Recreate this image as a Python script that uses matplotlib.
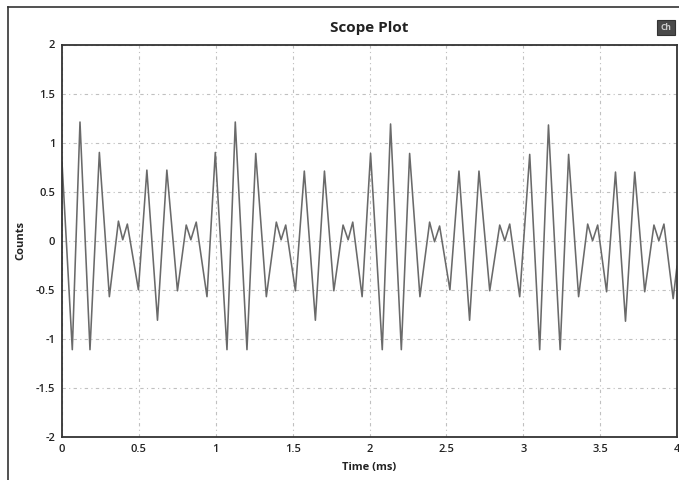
import matplotlib
matplotlib.use("Agg")
import matplotlib.pyplot as plt
from matplotlib.lines import Line2D
from matplotlib.patches import Rectangle

# ---- data (time in ms, counts) ----
time_ms = [0.000, 0.067, 0.117, 0.182, 0.243, 0.308, 0.367, 0.395, 0.425, 0.497,
           0.552, 0.621, 0.682, 0.751, 0.808, 0.838, 0.873, 0.943, 0.997, 1.073,
           1.127, 1.203, 1.260, 1.329, 1.394, 1.425, 1.455, 1.518, 1.576, 1.648,
           1.707, 1.768, 1.828, 1.861, 1.891, 1.952, 2.007, 2.083, 2.137, 2.207,
           2.261, 2.328, 2.391, 2.423, 2.456, 2.523, 2.582, 2.651, 2.712, 2.782,
           2.847, 2.880, 2.912, 2.977, 3.042, 3.107, 3.164, 3.240, 3.295, 3.360,
           3.419, 3.451, 3.484, 3.542, 3.600, 3.665, 3.725, 3.790, 3.850, 3.882,
           3.915, 3.975, 4.000]
counts = [0.80, -1.11, 1.21, -1.11, 0.90, -0.57, 0.20, 0.01, 0.17, -0.50,
          0.72, -0.81, 0.72, -0.51, 0.16, 0.01, 0.19, -0.57, 0.90, -1.11,
          1.21, -1.11, 0.89, -0.57, 0.19, 0.01, 0.16, -0.51, 0.71, -0.81,
          0.71, -0.51, 0.16, 0.01, 0.19, -0.57, 0.89, -1.11, 1.19, -1.11,
          0.89, -0.57, 0.19, -0.01, 0.15, -0.50, 0.71, -0.81, 0.71, -0.51,
          0.16, 0.00, 0.17, -0.57, 0.88, -1.11, 1.18, -1.11, 0.88, -0.57,
          0.17, 0.00, 0.16, -0.52, 0.70, -0.82, 0.70, -0.52, 0.16, 0.00,
          0.17, -0.59, -0.26]

x_ticks = [0, 0.5, 1, 1.5, 2, 2.5, 3, 3.5, 4]
x_tick_labels = ["0", "0.5", "1", "1.5", "2", "2.5", "3", "3.5", "4"]
y_ticks = [-2, -1.5, -1, -0.5, 0, 0.5, 1, 1.5, 2]
y_tick_labels = ["-2", "-1.5", "-1", "-0.5", "0", "0.5", "1", "1.5", "2"]

plt.rcParams['font.family'] = ['Open Sans', 'DejaVu Sans']

W, H = 679, 480
fig = plt.figure(figsize=(W / 100, H / 100), dpi=100)
fig.patch.set_facecolor("white")

ax = fig.add_axes([62 / W, 1 - 437 / H, (677 - 62) / W, (437 - 44.5) / H])
ax.plot(time_ms, counts, color="#6a6a6a", linewidth=1.15)

ax.set_xlim(0, 4)
ax.set_ylim(-2, 2)
ax.set_xticks(x_ticks)
ax.set_xticklabels(x_tick_labels)
ax.set_yticks(y_ticks)
ax.set_yticklabels(y_tick_labels)
ax.tick_params(length=0, labelsize=8, pad=5, colors="#222222")
for lbl in ax.get_xticklabels() + ax.get_yticklabels():
    lbl.set_fontweight("semibold")

ax.grid(True, color="#c0c0c0", linestyle=(0, (3, 3, 1, 3)), linewidth=0.8)
for sp in ax.spines.values():
    sp.set_color("#333333")
    sp.set_linewidth(1.3)

ax.set_title("Scope Plot", fontsize=11, fontweight="bold", pad=9, color="#222222")
ax.set_xlabel("Time (ms)", fontsize=8, fontweight="bold", labelpad=5, color="#222222")
ax.set_ylabel("Counts", fontsize=8, fontweight="bold", labelpad=7, color="#222222")

# outer window frame
fig.add_artist(Line2D([8 / W, 8 / W], [0, 1 - 7 / H], transform=fig.transFigure,
                      color="#333333", linewidth=1.2))
fig.add_artist(Line2D([8 / W, 1], [1 - 7 / H, 1 - 7 / H], transform=fig.transFigure,
                      color="#333333", linewidth=1.2))

# small channel badge at top right
fig.add_artist(Rectangle((657 / W, 1 - 35 / H), 18 / W, 15 / H, transform=fig.transFigure,
                         facecolor="#4a4a4a", edgecolor="#333333", linewidth=0.8))
fig.text(666 / W, 1 - 27.5 / H, "Ch", ha="center", va="center", fontsize=6,
         color="#cccccc", fontweight="bold")

fig.savefig("out.png", dpi=100)
